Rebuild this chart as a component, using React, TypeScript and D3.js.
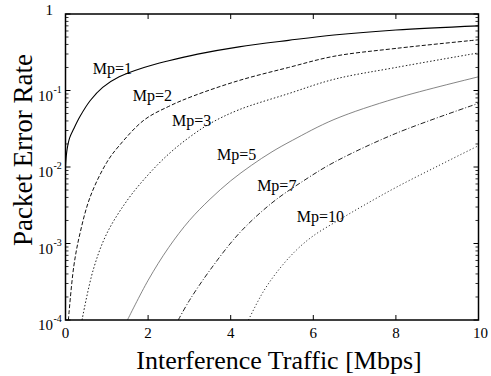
import React, { useEffect, useRef } from 'react';
import * as d3 from 'd3';

// series: [traffic Mbps, packet error rate]
const mp1: [number, number][] = [[0, 0.01], [0.03, 0.0158], [0.1, 0.024], [0.2, 0.0316], [0.35, 0.0457], [0.6, 0.074], [0.9, 0.11], [1.3, 0.151], [1.9, 0.2], [2.5, 0.245], [3.2, 0.299], [4.2, 0.372], [5.4, 0.452], [6.5, 0.531], [8, 0.617], [10, 0.70]];
const mp2: [number, number][] = [[0.07, 1.0e-4], [0.2, 5e-4], [0.35, 1.35e-3], [0.6, 4.1e-3], [1.0, 1.15e-2], [1.3, 1.9e-2], [1.9, 4.1e-2], [2.5, 6.2e-2], [3.1, 8.5e-2], [4.2, 0.135], [5.4, 0.2], [6.5, 0.28], [8, 0.355], [10, 0.46]];
const mp3: [number, number][] = [[0.4, 1.0e-4], [0.67, 4.5e-4], [1.0, 1.35e-3], [1.5, 3.7e-3], [2.0, 7.9e-3], [2.5, 1.48e-2], [3.0, 2.45e-2], [3.5, 3.7e-2], [4.2, 5.6e-2], [5.4, 9.1e-2], [6.5, 0.14], [8, 0.2], [10, 0.31]];
const mp5: [number, number][] = [[1.5, 1.0e-4], [2.0, 3.3e-4], [2.5, 8.9e-4], [3.0, 2.0e-3], [3.5, 3.8e-3], [4.0, 6.6e-3], [4.5, 1.05e-2], [5.0, 1.58e-2], [5.5, 2.24e-2], [6.5, 4.17e-2], [8, 7.9e-2], [10, 0.151]];
const mp7: [number, number][] = [[2.73, 1.0e-4], [3.0, 1.8e-4], [3.5, 4.5e-4], [4.2, 1.35e-3], [5.0, 3.4e-3], [5.8, 6.8e-3], [6.5, 1.15e-2], [8, 2.75e-2], [10, 6.8e-2]];
const mp10: [number, number][] = [[4.43, 1.0e-4], [4.8, 2.4e-4], [5.2, 4.8e-4], [5.6, 8.3e-4], [6.0, 1.26e-3], [6.6, 2.0e-3], [7.2, 3.1e-3], [8.0, 5.4e-3], [9.0, 1.02e-2], [10, 1.9e-2]];

const seriesNames = ['Mp=1', 'Mp=2', 'Mp=3', 'Mp=5', 'Mp=7', 'Mp=10'];
// where each label sits (data coords of its left baseline)
const labelAt: [number, number][] = [[0.66, 0.165], [1.63, 0.073], [2.58, 0.034], [3.67, 0.0125], [4.64, 0.0048], [5.6, 0.0019]];

const xTicks = [0, 2, 4, 6, 8, 10];
const yExps = [0, -1, -2, -3, -4];

const App = () => {
  const svgRef = useRef<SVGSVGElement>(null);

  useEffect(() => {
    const svg = d3.select(svgRef.current);
    svg.selectAll('*').remove();

    const left = 65.5, right = 478.5, top = 14, bottom = 320;
    const font = '"Liberation Serif", "Times New Roman", serif';

    const x = d3.scaleLinear().domain([0, 10]).range([left, right]);
    const y = d3.scaleLog().domain([1e-4, 1]).range([bottom, top]);

    svg.append('clipPath').attr('id', 'plotclip')
      .append('rect').attr('x', left).attr('y', top).attr('width', right - left).attr('height', bottom - top);

    const styles = [
      { dash: null, color: '#000', w: 1.1 },
      { dash: '4,2', color: '#111', w: 1 },
      { dash: '1.5,2', color: '#222', w: 1 },
      { dash: null, color: '#666', w: 0.8 },
      { dash: '5,2,1,2', color: '#222', w: 1 },
      { dash: '1.2,2.2', color: '#333', w: 1 },
    ];
    const all = [mp1, mp2, mp3, mp5, mp7, mp10];

    const line = d3.line<[number, number]>()
      .x(d => x(d[0]))
      .y(d => y(d[1]))
      .curve(d3.curveCatmullRom.alpha(0.5));

    const g = svg.append('g').attr('clip-path', 'url(#plotclip)');
    all.forEach((s, i) => {
      g.append('path')
        .attr('d', line(s))
        .attr('fill', 'none')
        .attr('stroke', styles[i].color)
        .attr('stroke-width', styles[i].w)
        .attr('stroke-dasharray', styles[i].dash);
    });

    seriesNames.forEach((n, i) => {
      svg.append('text')
        .attr('x', x(labelAt[i][0]))
        .attr('y', y(labelAt[i][1]))
        .attr('font-family', font)
        .attr('font-size', 16)
        .text(n);
    });

    // frame
    svg.append('rect')
      .attr('x', left).attr('y', top).attr('width', right - left).attr('height', bottom - top)
      .attr('fill', 'none').attr('stroke', '#000').attr('stroke-width', 1.5);

    // x ticks
    xTicks.forEach(t => {
      svg.append('line').attr('x1', x(t)).attr('x2', x(t)).attr('y1', bottom).attr('y2', bottom - 5).attr('stroke', '#000');
      svg.append('line').attr('x1', x(t)).attr('x2', x(t)).attr('y1', top).attr('y2', top + 5).attr('stroke', '#000');
      svg.append('text')
        .attr('x', x(t) + (t === 10 ? 2 : 0)).attr('y', 338)
        .attr('text-anchor', 'middle')
        .attr('font-family', font).attr('font-size', 15)
        .text(String(t));
    });

    // y ticks, major and minor
    yExps.forEach(e => {
      const py = y(Math.pow(10, e));
      svg.append('line').attr('x1', left).attr('x2', left + 5).attr('y1', py).attr('y2', py).attr('stroke', '#000');
      svg.append('line').attr('x1', right).attr('x2', right - 5).attr('y1', py).attr('y2', py).attr('stroke', '#000');
      if (e < 0) {
        for (let k = 2; k <= 9; k++) {
          const my = y(k * Math.pow(10, e));
          svg.append('line').attr('x1', left).attr('x2', left + 3).attr('y1', my).attr('y2', my).attr('stroke', '#000').attr('stroke-width', 0.8);
          svg.append('line').attr('x1', right).attr('x2', right - 3).attr('y1', my).attr('y2', my).attr('stroke', '#000').attr('stroke-width', 0.8);
        }
      }
      if (e === 0) {
        svg.append('text').attr('x', 53).attr('y', py + 1).attr('text-anchor', 'end')
          .attr('font-family', font).attr('font-size', 15).text('1');
      } else {
        svg.append('text').attr('x', 53).attr('y', py + 10).attr('text-anchor', 'end')
          .attr('font-family', font).attr('font-size', 15).text('10');
        svg.append('text').attr('x', 53.5).attr('y', py + 2)
          .attr('font-family', font).attr('font-size', 10).text(String(e));
      }
    });

    // axis titles
    svg.append('text')
      .attr('x', 279).attr('y', 369)
      .attr('text-anchor', 'middle')
      .attr('font-family', font).attr('font-size', 26)
      .text('Interference Traffic [Mbps]');
    svg.append('text')
      .attr('transform', 'translate(32,150) rotate(-90)')
      .attr('text-anchor', 'middle')
      .attr('font-family', font).attr('font-size', 27)
      .text('Packet Error Rate');
  }, []);

  return (
    <svg ref={svgRef} width={491} height={376}
      style={{ position: 'absolute', left: 0, top: 0, background: '#fff' }} />
  );
};

export default App;
